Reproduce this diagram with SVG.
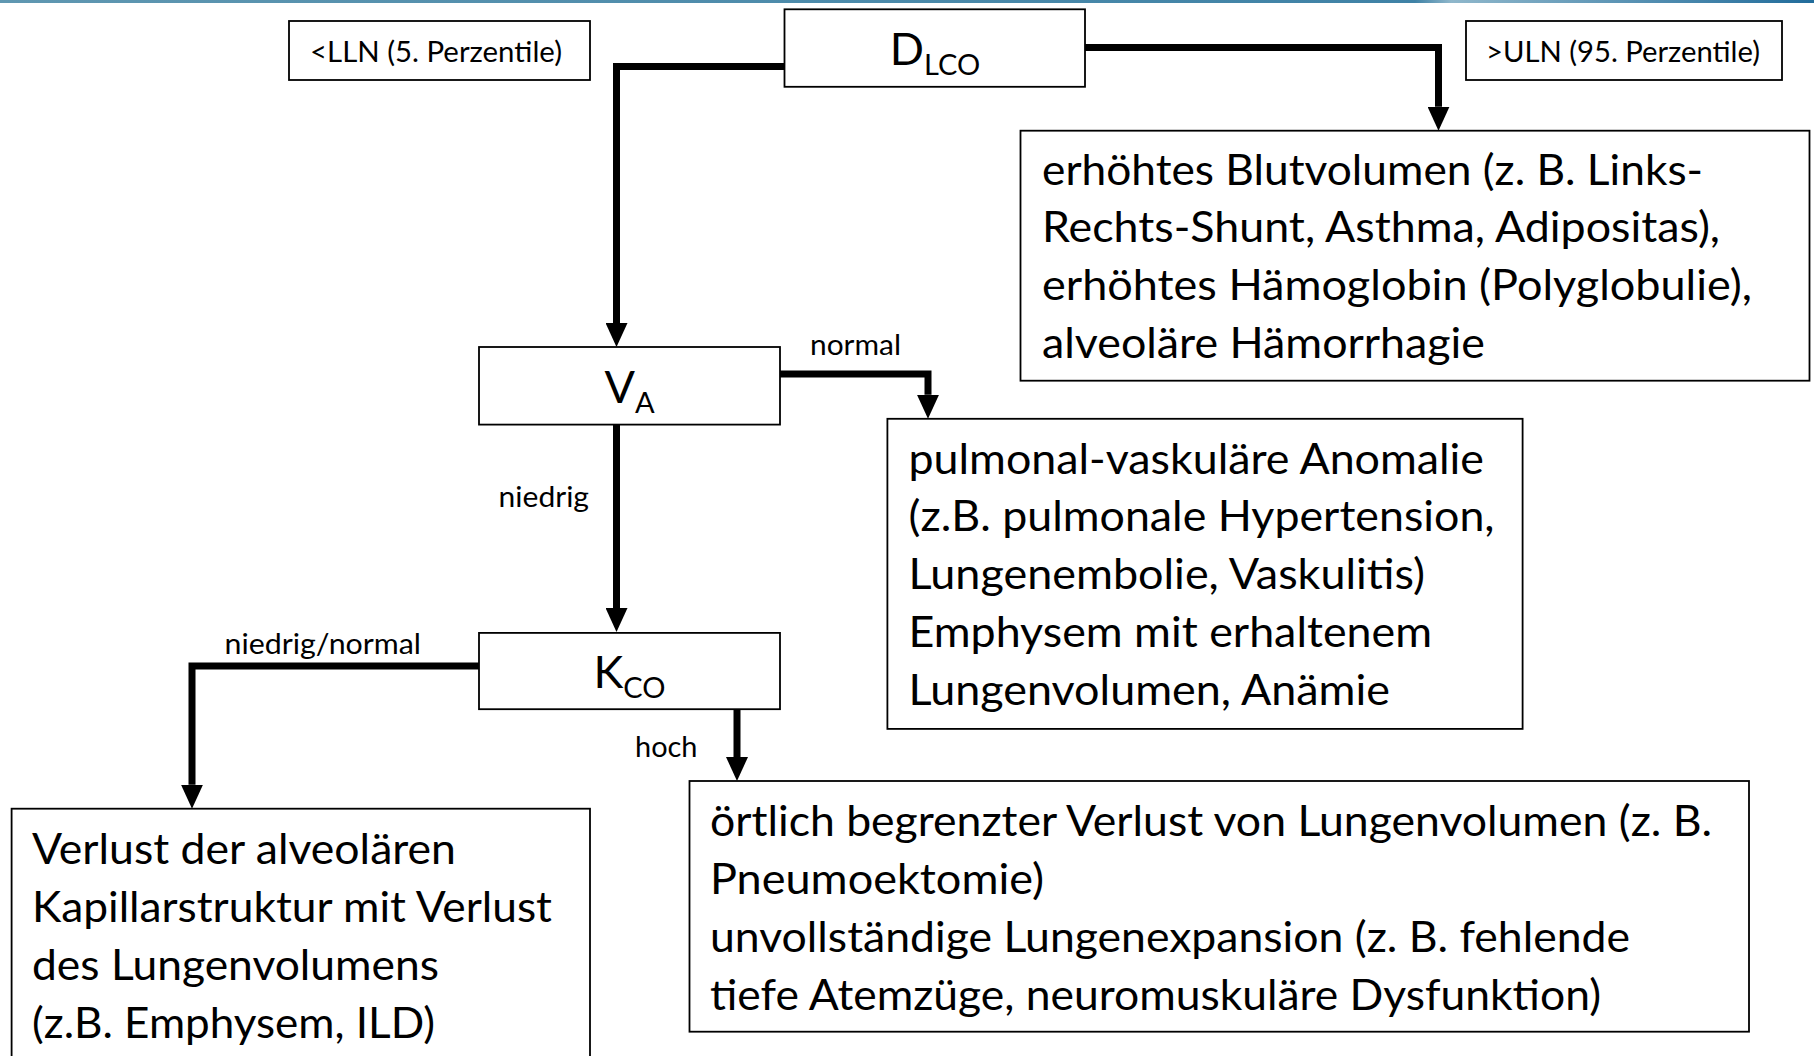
<svg xmlns="http://www.w3.org/2000/svg" width="1814" height="1056" viewBox="0 0 1814 1056">
<style>
.box{fill:#fff;stroke:#000;stroke-width:1.8}
text{font-family:Lato,"Liberation Sans",sans-serif;fill:#000}
.big{font-size:43px}
.lbl{font-size:29px}
.head{font-size:45px}
.sub{font-size:29px}
.con{fill:none;stroke:#000;stroke-width:7;stroke-linejoin:miter}
</style>
<defs>
<linearGradient id="topbar" x1="0" y1="0" x2="1" y2="0">
<stop offset="0" stop-color="#5f97b1"/>
<stop offset="0.78" stop-color="#3f82a6"/>
<stop offset="0.8" stop-color="#8fb7cb"/>
<stop offset="1" stop-color="#216c9b"/>
</linearGradient>
<marker id="arr" viewBox="0 0 24 22" refX="0" refY="11" markerWidth="24" markerHeight="22" markerUnits="userSpaceOnUse" orient="auto">
<path d="M0,0 L24,11 L0,22 z" fill="#000"/>
</marker>
</defs>
<rect x="0" y="0" width="1814" height="3" fill="url(#topbar)"/>

<g id="connectors">
<path class="con" d="M784.5,66.5 H616.5 V323" marker-end="url(#arr)"/>
<path class="con" d="M1085,47.5 H1438.5 V106.7" marker-end="url(#arr)"/>
<path class="con" d="M780,374 H928 V394.8" marker-end="url(#arr)"/>
<path class="con" d="M616.5,424.6 V608" marker-end="url(#arr)"/>
<path class="con" d="M479,666 H192 V784.7" marker-end="url(#arr)"/>
<path class="con" d="M737,709.2 V757" marker-end="url(#arr)"/>
<text class="lbl" x="810" y="355" textLength="91" lengthAdjust="spacingAndGlyphs">normal</text>
<text class="lbl" x="498.6" y="507" textLength="90.4" lengthAdjust="spacingAndGlyphs">niedrig</text>
<text class="lbl" x="224.5" y="654" textLength="196.5" lengthAdjust="spacingAndGlyphs">niedrig/normal</text>
<text class="lbl" x="635" y="757" textLength="62.5" lengthAdjust="spacingAndGlyphs">hoch</text>
</g>

<g id="lln">
<rect class="box" x="289" y="21" width="301" height="59"/>
<text class="lbl" x="310" y="62" textLength="252" lengthAdjust="spacingAndGlyphs">&lt;LLN (5. Perzentile)</text>
</g>

<g id="dlco">
<rect class="box" x="784.5" y="9.3" width="300.5" height="77.5"/>
<text x="935" y="65" text-anchor="middle"><tspan class="head">D</tspan><tspan class="sub" dy="10">LCO</tspan></text>
</g>

<g id="uln">
<rect class="box" x="1466" y="21" width="316" height="59"/>
<text class="lbl" x="1486" y="62" textLength="274" lengthAdjust="spacingAndGlyphs">&gt;ULN (95. Perzentile)</text>
</g>

<g id="erhoeht">
<rect class="box" x="1020.5" y="130.7" width="789" height="250"/>
<text class="big" x="1042" y="184.5" textLength="661" lengthAdjust="spacingAndGlyphs">erhöhtes Blutvolumen (z. B. Links-</text>
<text class="big" x="1042" y="242.3" textLength="678" lengthAdjust="spacingAndGlyphs">Rechts-Shunt, Asthma, Adipositas),</text>
<text class="big" x="1042" y="300.1" textLength="710" lengthAdjust="spacingAndGlyphs">erhöhtes Hämoglobin (Polyglobulie),</text>
<text class="big" x="1042" y="357.9" textLength="443" lengthAdjust="spacingAndGlyphs">alveoläre Hämorrhagie</text>
</g>

<g id="va">
<rect class="box" x="479" y="347" width="301" height="77.6"/>
<text x="629.5" y="403" text-anchor="middle"><tspan class="head">V</tspan><tspan class="sub" dy="10">A</tspan></text>
</g>

<g id="pulmonal">
<rect class="box" x="887.4" y="418.8" width="635.2" height="310.1"/>
<text class="big" x="908.5" y="473.5" textLength="575.5" lengthAdjust="spacingAndGlyphs">pulmonal-vaskuläre Anomalie</text>
<text class="big" x="908.5" y="531.3" textLength="586" lengthAdjust="spacingAndGlyphs">(z.B. pulmonale Hypertension,</text>
<text class="big" x="908.5" y="589.1" textLength="516.5" lengthAdjust="spacingAndGlyphs">Lungenembolie, Vaskulitis)</text>
<text class="big" x="908.5" y="646.9" textLength="523.5" lengthAdjust="spacingAndGlyphs">Emphysem mit erhaltenem</text>
<text class="big" x="908.5" y="704.7" textLength="481.5" lengthAdjust="spacingAndGlyphs">Lungenvolumen, Anämie</text>
</g>

<g id="kco">
<rect class="box" x="479" y="632.9" width="301" height="76.3"/>
<text x="629.5" y="688" text-anchor="middle"><tspan class="head">K</tspan><tspan class="sub" dy="10">CO</tspan></text>
</g>

<g id="verlust">
<rect class="box" x="11.6" y="808.7" width="578.4" height="270"/>
<text class="big" x="32" y="864.2" textLength="424" lengthAdjust="spacingAndGlyphs">Verlust der alveolären</text>
<text class="big" x="32" y="922" textLength="520" lengthAdjust="spacingAndGlyphs">Kapillarstruktur mit Verlust</text>
<text class="big" x="32" y="979.8" textLength="407" lengthAdjust="spacingAndGlyphs">des Lungenvolumens</text>
<text class="big" x="32" y="1037.6" textLength="403" lengthAdjust="spacingAndGlyphs">(z.B. Emphysem, ILD)</text>
</g>

<g id="oertlich">
<rect class="box" x="689.5" y="781" width="1059.5" height="250.7"/>
<text class="big" x="710" y="836.1" textLength="1002" lengthAdjust="spacingAndGlyphs">örtlich begrenzter Verlust von Lungenvolumen (z. B.</text>
<text class="big" x="710" y="893.9" textLength="334" lengthAdjust="spacingAndGlyphs">Pneumoektomie)</text>
<text class="big" x="710" y="951.7" textLength="920" lengthAdjust="spacingAndGlyphs">unvollständige Lungenexpansion (z. B. fehlende</text>
<text class="big" x="710" y="1009.5" textLength="891" lengthAdjust="spacingAndGlyphs">tiefe Atemzüge, neuromuskuläre Dysfunktion)</text>
</g>
</svg>
